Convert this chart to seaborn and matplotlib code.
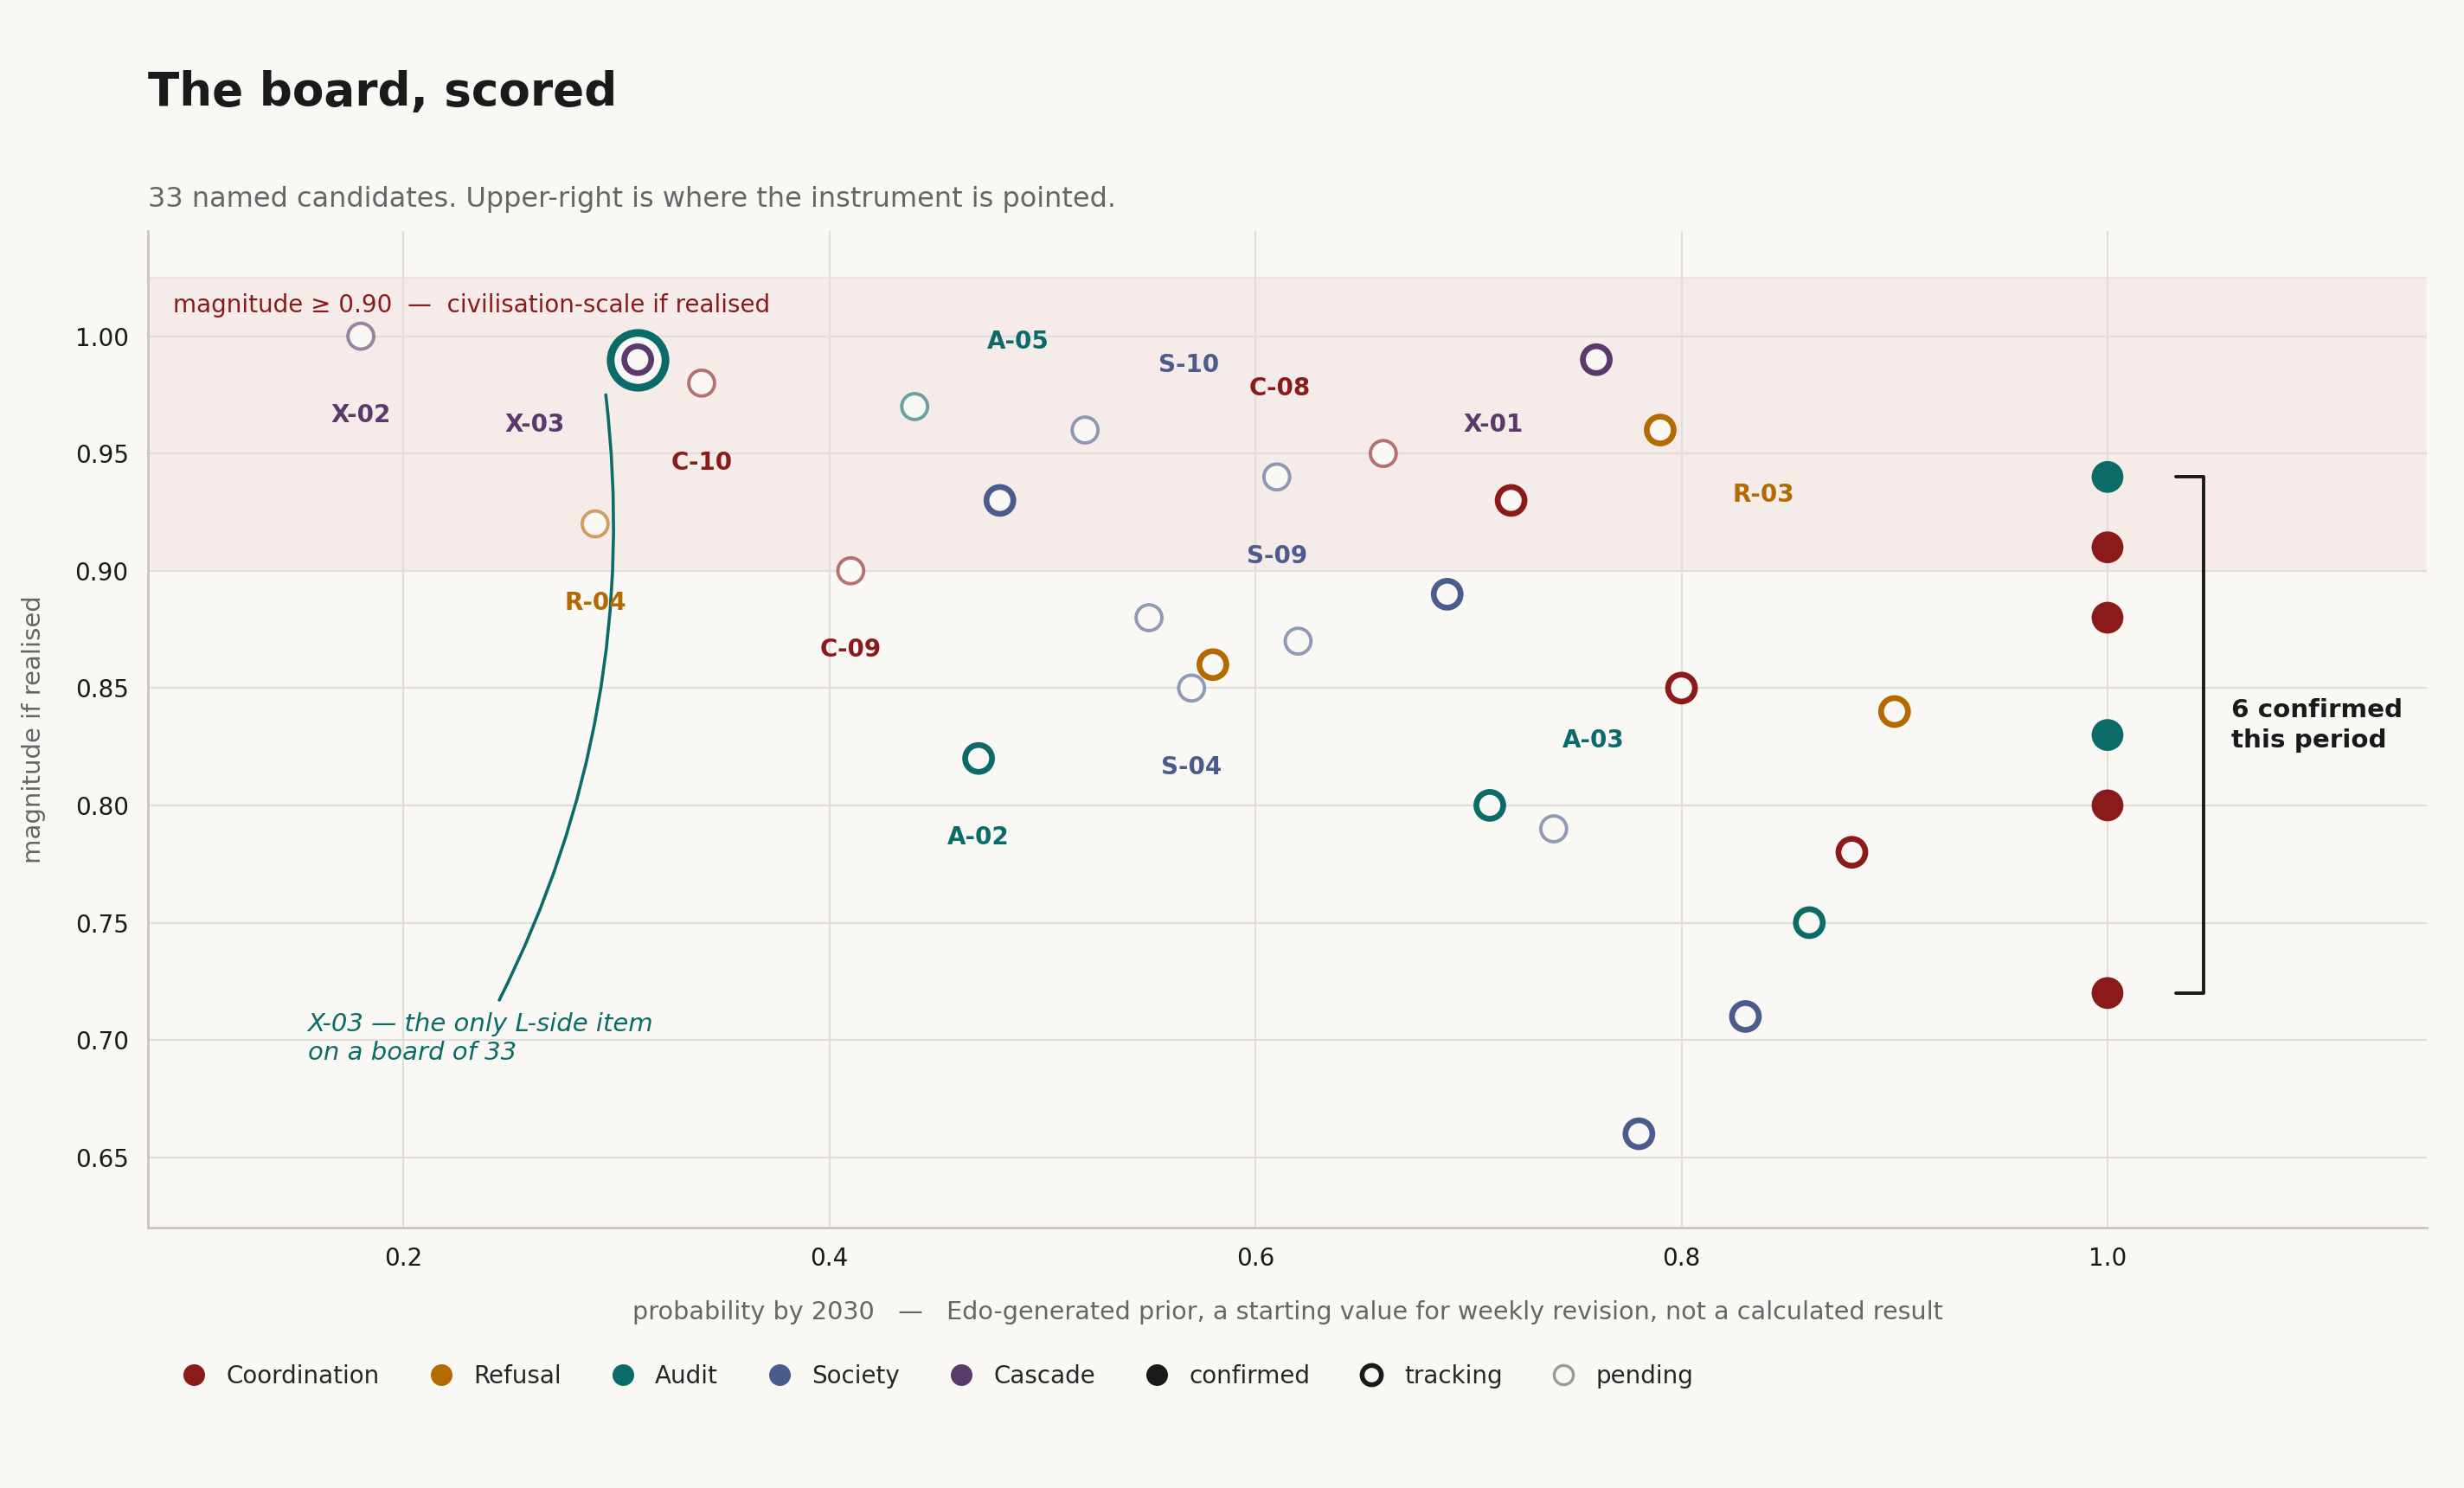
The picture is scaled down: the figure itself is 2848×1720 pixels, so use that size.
import numpy as np
import pandas as pd
import matplotlib
matplotlib.use("Agg")
import matplotlib.pyplot as plt
from matplotlib.lines import Line2D
import seaborn as sns

# ===============================
# Data
# ===============================
prob = [0.18, 0.34, 0.29, 0.41, 0.44, 0.52, 0.61, 0.66, 0.55, 0.57, 0.62, 0.74,
        0.31, 0.48, 0.47, 0.58, 0.69, 0.72, 0.76, 0.79, 0.71, 0.80, 0.90, 0.88,
        0.86, 0.83, 0.78,
        1.00, 1.00, 1.00, 1.00, 1.00, 1.00]
magn = [1.00, 0.98, 0.92, 0.90, 0.97, 0.96, 0.94, 0.95, 0.88, 0.85, 0.87, 0.79,
        0.99, 0.93, 0.82, 0.86, 0.89, 0.93, 0.99, 0.96, 0.80, 0.85, 0.84, 0.78,
        0.75, 0.71, 0.66,
        0.94, 0.91, 0.88, 0.83, 0.80, 0.72]
family = ["Cascade", "Coordination", "Refusal", "Coordination", "Audit", "Society",
          "Society", "Coordination", "Society", "Society", "Society", "Society",
          "Cascade", "Society", "Audit", "Refusal", "Society", "Coordination",
          "Cascade", "Refusal", "Audit", "Coordination", "Refusal", "Coordination",
          "Audit", "Society", "Society",
          "Audit", "Coordination", "Coordination", "Audit", "Coordination", "Coordination"]
status = ["pending"] * 12 + ["tracking"] * 15 + ["confirmed"] * 6
label = ["X-02", "C-10", "R-04", "C-09", "A-05", "S-10", "S-09", "C-08", "", "S-04", "", "",
         "X-03", "", "A-02", "", "", "", "X-01", "R-03", "A-03", "", "", "",
         "", "", "",
         "", "", "", "", "", ""]

families = ["Coordination", "Refusal", "Audit", "Society", "Cascade"]
palette = {"Coordination": "#8b1a1a", "Refusal": "#b36a00", "Audit": "#0a6b68",
           "Society": "#4a5b8c", "Cascade": "#5a3a6a"}

df = pd.DataFrame({"prob": prob, "magn": magn, "family": family,
                   "status": status, "label": label})

# label offsets in points: below / diagonals
OFFSETS = {"X-02": (0, -33), "C-10": (0, -33), "R-04": (0, -33), "C-09": (0, -33),
           "S-09": (0, -33), "S-04": (0, -33), "A-02": (0, -33),
           "A-05": (43, 27), "S-10": (43, 27), "A-03": (43, 27),
           "C-08": (-43, 27), "X-03": (-43, -27), "X-01": (-43, -27),
           "R-03": (43, -27)}

BG = "#f9f8f5"
GRID = "#e2dfdb"
INK = "#1a1a1a"
GREY = "#666666"

# ===============================
# Style
# ===============================
sns.set_theme(style="whitegrid")
plt.rcParams.update({
    "font.family": ["DejaVu Sans"],
    "figure.facecolor": BG,
    "axes.facecolor": BG,
    "axes.edgecolor": "#c9c4bf",
    "grid.color": GRID,
    "grid.linewidth": 0.8,
    "xtick.color": INK,
    "ytick.color": INK,
})

fig = plt.figure(figsize=(14.24, 8.6), dpi=200)
ax = fig.add_axes([0.060, 0.175, 0.925, 0.670])

# band for civilisation-scale
ax.axhspan(0.90, 1.025, color="#f5ecea", zorder=0, lw=0)
ax.axhline(1.025, color="#f0e2e0", lw=0.8, zorder=0)

# ===============================
# Points
# ===============================
sub = df[df.status == "pending"]
sns.scatterplot(data=sub, x="prob", y="magn", hue="family", palette=palette,
                s=115, linewidth=0, legend=False, ax=ax, zorder=3)
pc = ax.collections[-1]
ec = pc.get_facecolors().copy()
ec[:, 3] = 0.6
pc.set_edgecolors(ec)
pc.set_facecolors(BG)
pc.set_linewidths(1.4)

# highlight ring for X-03
hl = df[df.label == "X-03"]
sns.scatterplot(data=hl, x="prob", y="magn", s=520, color=palette["Audit"],
                linewidth=0, legend=False, ax=ax, zorder=3)
rc = ax.collections[-1]
rc.set_edgecolors(palette["Audit"])
rc.set_facecolors(BG)
rc.set_linewidths(3.2)

sub = df[df.status == "tracking"]
sns.scatterplot(data=sub, x="prob", y="magn", hue="family", palette=palette,
                s=125, linewidth=0, legend=False, ax=ax, zorder=4)
tc = ax.collections[-1]
tc.set_edgecolors(tc.get_facecolors().copy())
tc.set_facecolors(BG)
tc.set_linewidths(2.4)

sub = df[df.status == "confirmed"]
sns.scatterplot(data=sub, x="prob", y="magn", hue="family", palette=palette,
                s=175, linewidth=0, legend=False, ax=ax, zorder=4)

# point labels
for _, r in df[df.label != ""].iterrows():
    dx, dy = OFFSETS[r.label]
    ax.annotate(r.label, (r.prob, r.magn), xytext=(dx, dy), textcoords="offset points",
                ha="center", va="center", fontsize=10, fontweight="bold",
                color=palette[r.family], zorder=5)

# band text
ax.text(0.092, 1.013, "magnitude \u2265 0.90  \u2014  civilisation-scale if realised",
        color="#8b1a1a", fontsize=10, ha="left", va="center", zorder=5)

# X-03 note with curved leader
ax.annotate("", xy=(0.295, 0.975), xytext=(0.245, 0.717),
            arrowprops=dict(arrowstyle="-", color=palette["Audit"], lw=1.3,
                            connectionstyle="arc3,rad=0.15", shrinkA=0, shrinkB=0),
            zorder=2)
ax.text(0.155, 0.712, "X-03 \u2014 the only L-side item\non a board of 33",
        color=palette["Audit"], fontsize=10.5, style="italic", ha="left", va="top",
        linespacing=1.25)

# bracket for confirmed
conf = df[df.status == "confirmed"]
ytop, ybot = conf.magn.max(), conf.magn.min()
ax.plot([1.032, 1.045, 1.045, 1.032], [ytop, ytop, ybot, ybot], color=INK, lw=1.4,
        zorder=4)
ax.text(1.058, (ytop + ybot) / 2 + 0.004, "6 confirmed\nthis period", color=INK,
        fontsize=10.6, fontweight="bold", ha="left", va="center", linespacing=1.3)

# ===============================
# Axes
# ===============================
ax.set_xlim(0.08, 1.15)
ax.set_ylim(0.62, 1.045)
ax.set_xticks([0.2, 0.4, 0.6, 0.8, 1.0])
ax.set_yticks(np.arange(0.65, 1.001, 0.05))
ax.yaxis.set_major_formatter(matplotlib.ticker.FormatStrFormatter("%.2f"))
ax.tick_params(length=0, labelsize=10, pad=8)
ax.grid(True, color=GRID, lw=0.8)
sns.despine(ax=ax)
for sp in ("left", "bottom"):
    ax.spines[sp].set_color("#c9c4bf")
    ax.spines[sp].set_linewidth(1.0)
ax.set_xlabel("probability by 2030   \u2014   Edo-generated prior, a starting value for "
              "weekly revision, not a calculated result", color=GREY, fontsize=10.3,
              labelpad=12)
ax.set_ylabel("magnitude if realised", color=GREY, fontsize=10.5, labelpad=12)

# titles
fig.text(0.060, 0.938, "The board, scored", fontsize=19.2, fontweight="bold",
         color=INK, ha="left", va="center")
fig.text(0.060, 0.866, "33 named candidates. Upper-right is where the instrument is pointed.",
         fontsize=11.5, color=GREY, ha="left", va="center")

# legend
handles = [Line2D([], [], ls="", marker="o", markersize=9, markerfacecolor=palette[f],
                  markeredgewidth=0, label=f) for f in families]
handles += [
    Line2D([], [], ls="", marker="o", markersize=9, markerfacecolor=INK,
           markeredgewidth=0, label="confirmed"),
    Line2D([], [], ls="", marker="o", markersize=8, markerfacecolor=BG,
           markeredgecolor=INK, markeredgewidth=2.0, label="tracking"),
    Line2D([], [], ls="", marker="o", markersize=8, markerfacecolor=BG,
           markeredgecolor="#999999", markeredgewidth=1.2, label="pending"),
]
fig.legend(handles=handles, loc="center left", bbox_to_anchor=(0.065, 0.075),
           ncol=8, frameon=False, fontsize=10, handletextpad=0.85, columnspacing=2.05,
           handlelength=1.0)

fig.savefig("out.png", dpi=200, facecolor=BG)
